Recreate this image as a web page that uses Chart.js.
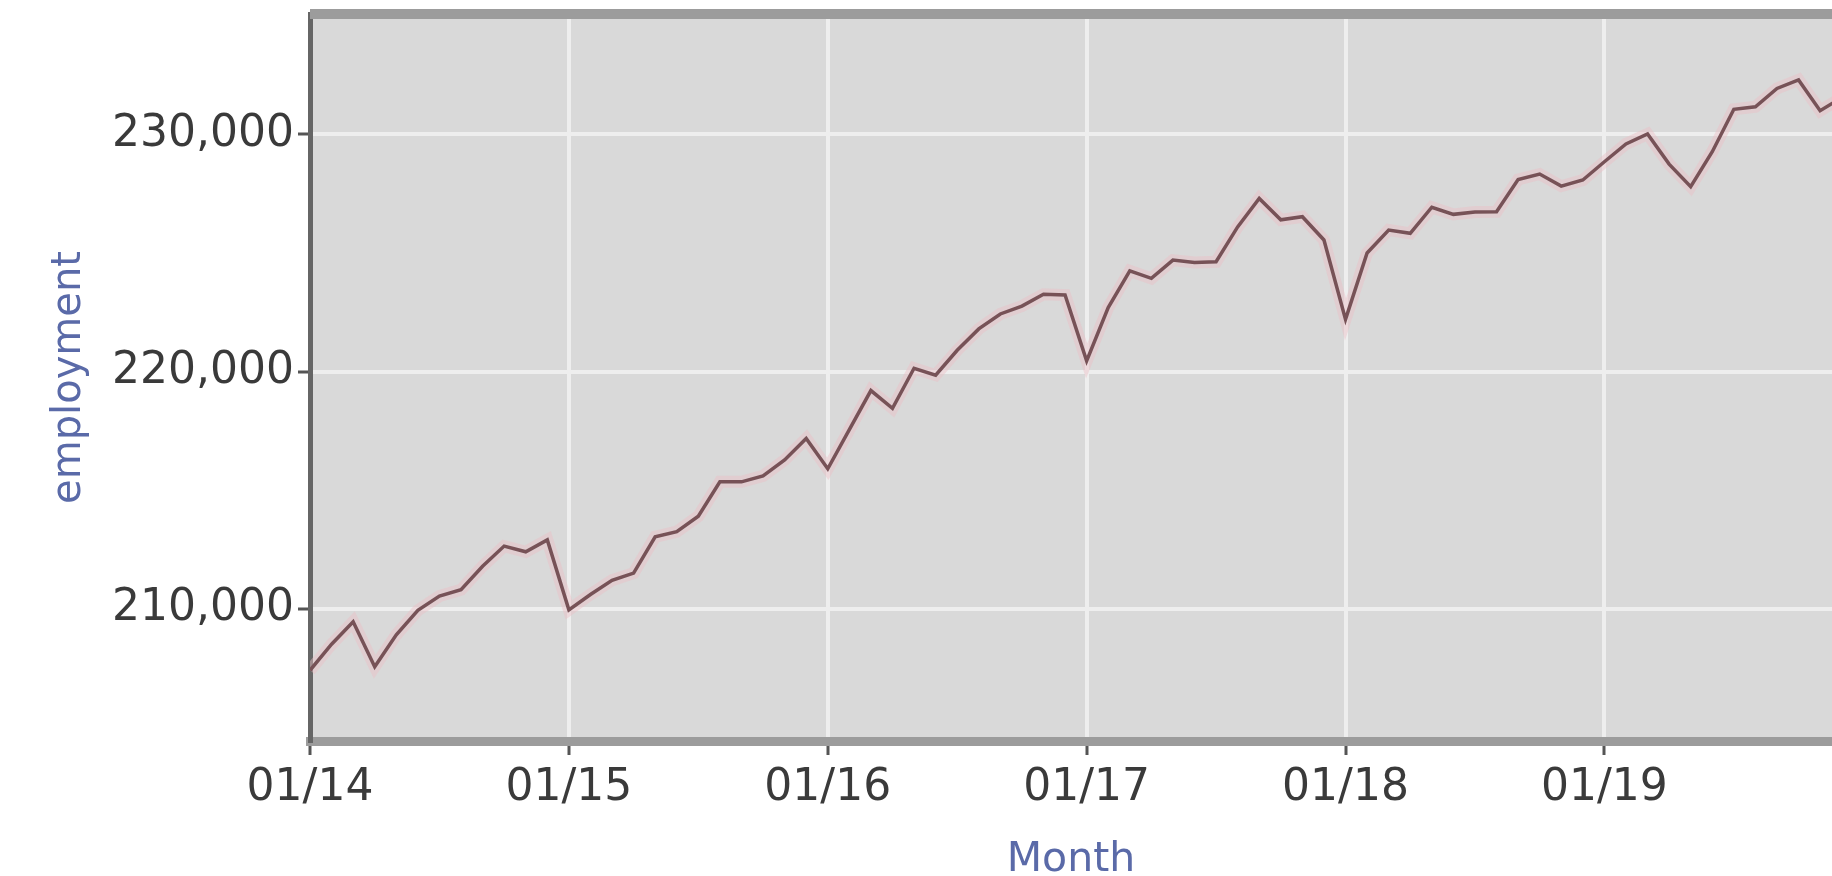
<!DOCTYPE html>
<html>
<head>
<meta charset="utf-8">
<title>employment by Month</title>
<script src="https://cdn.jsdelivr.net/npm/chart.js@4.4.1/dist/chart.umd.min.js"></script>
<style>
  html, body { margin: 0; padding: 0; background: #ffffff; }
  #chartBox { width: 1832px; height: 876px; position: relative; }
</style>
</head>
<body>
<div id="chartBox"><canvas id="employmentChart"></canvas></div>
<script>
// Monthly employment, starting 01/2014 (month index 0)
const employment = [
  207400, 208500, 209450, 207550, 208900, 209930, 210530, 210800, 211790, 212640, 212400, 212900,
  209950, 210600, 211200, 211500, 213030, 213250, 213900, 215350, 215350, 215600, 216270, 217180,
  215900, 217550, 219200, 218450, 220140, 219850, 220900, 221800, 222430, 222760, 223260, 223230,
  220450, 222700, 224250, 223930, 224700, 224600, 224630, 226100, 227300, 226400, 226530, 225550,
  222200, 225000, 225970, 225830, 226930, 226630, 226730, 226740, 228100, 228330, 227820, 228080,
  228850, 229600, 230020, 228750, 227800, 229270, 231060, 231170, 231940, 232300, 231000, 231550
];

// x axis ticks (month index) and their labels
const xTickMonths = [0, 12, 24, 36, 48, 60];
const xTickLabels = ["01/14", "01/15", "01/16", "01/17", "01/18", "01/19"];

// y axis ticks
const yTickValues = [210000, 220000, 230000];
const yTickLabels = ["210,000", "220,000", "230,000"];

document.addEventListener("DOMContentLoaded", function () {
  initializeEmploymentChart();
});

/**
 * Grey plot background and the heavy top frame line
 */
const plotFrame = {
  id: "plotFrame",
  beforeDraw(chart) {
    const { ctx, chartArea: a } = chart;
    ctx.save();
    ctx.fillStyle = "#d9d9d9";
    ctx.fillRect(a.left, a.top, a.right - a.left, a.bottom - a.top);
    ctx.restore();
  },
  afterDatasetsDraw(chart) {
    const { ctx, chartArea: a } = chart;
    ctx.save();
    ctx.fillStyle = "#9c9c9c";
    ctx.fillRect(a.left, a.top - 5, a.right - a.left, 10);
    ctx.restore();
  },
};

function initializeEmploymentChart() {
  const canvas = document.getElementById("employmentChart");
  if (!canvas) return;

  const points = employment.map((v, i) => ({ x: i, y: v }));

  new Chart(canvas, {
    type: "line",
    data: {
      datasets: [
        {
          // soft pink halo under the line
          data: points,
          borderColor: "rgba(236, 190, 198, 0.45)",
          borderWidth: 12,
          pointRadius: 0,
          tension: 0,
          order: 2,
        },
        {
          label: "employment",
          data: points,
          borderColor: "#775257",
          borderWidth: 3.5,
          pointRadius: 0,
          tension: 0,
          order: 1,
        },
      ],
    },
    options: {
      responsive: true,
      maintainAspectRatio: false,
      animation: false,
      layout: {
        padding: { top: 14, right: 0, bottom: 0, left: 0 },
      },
      plugins: {
        legend: { display: false },
        tooltip: { enabled: false },
      },
      scales: {
        x: {
          type: "linear",
          min: 0,
          max: 70.55,
          afterBuildTicks: function (scale) {
            scale.ticks = xTickMonths.map((m) => ({ value: m }));
          },
          afterFit: function (scale) {
            scale.height = 135;
            scale.paddingLeft = 0;
            scale.paddingRight = 0;
          },
          ticks: {
            autoSkip: false,
            maxRotation: 0,
            padding: 12,
            color: "#3a3a3a",
            font: { family: "DejaVu Sans", size: 44, lineHeight: 1 },
            callback: function (value) {
              const i = xTickMonths.indexOf(value);
              return i >= 0 ? xTickLabels[i] : "";
            },
          },
          grid: {
            color: "#eeeeee",
            lineWidth: 4,
            tickLength: 14,
            tickColor: "#555555",
            tickWidth: 3,
          },
          border: {
            display: true,
            color: "#9c9c9c",
            width: 9,
          },
          title: {
            display: true,
            text: "Month",
            color: "#5a6aa8",
            padding: { top: 0, bottom: -5 },
            font: { family: "DejaVu Sans", size: 41, lineHeight: 1 },
          },
        },
        y: {
          type: "linear",
          min: 204420,
          max: 235080,
          afterBuildTicks: function (scale) {
            scale.ticks = yTickValues.map((v) => ({ value: v }));
          },
          afterFit: function (scale) {
            scale.width = 310;
            scale.paddingTop = 0;
            scale.paddingBottom = 0;
          },
          ticks: {
            padding: 4,
            color: "#3a3a3a",
            font: { family: "DejaVu Sans", size: 44, lineHeight: 1 },
            callback: function (value) {
              const i = yTickValues.indexOf(value);
              return i >= 0 ? yTickLabels[i] : "";
            },
          },
          grid: {
            color: "#eeeeee",
            lineWidth: 4,
            tickLength: 12,
            tickColor: "#555555",
            tickWidth: 3,
          },
          border: {
            display: true,
            color: "#666666",
            width: 5,
          },
          title: {
            display: true,
            text: "employment",
            color: "#5a6aa8",
            padding: { top: 50, bottom: 0 },
            font: { family: "DejaVu Sans", size: 40, lineHeight: 1 },
          },
        },
      },
    },
    plugins: [plotFrame],
  });
}
</script>
</body>
</html>
